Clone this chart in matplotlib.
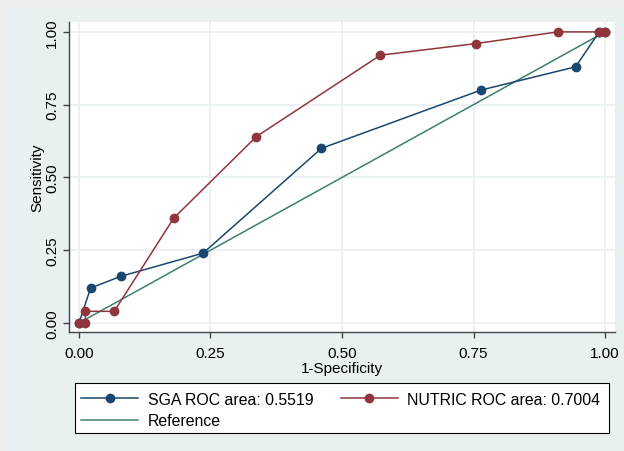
import numpy as np
import matplotlib.pyplot as plt
from matplotlib.patches import Rectangle

plt.rcParams['font.family'] = ['Liberation Sans', 'DejaVu Sans']

# ROC coordinates (1-specificity, sensitivity)
sga_fpr = [0.0, 0.022, 0.079, 0.236, 0.461, 0.764, 0.944, 0.989, 1.0]
sga_tpr = [0.0, 0.12, 0.16, 0.24, 0.60, 0.80, 0.88, 1.0, 1.0]
nutric_fpr = [0.0, 0.012, 0.012, 0.067, 0.18, 0.337, 0.573, 0.755, 0.910, 0.989, 1.0]
nutric_tpr = [0.0, 0.0, 0.04, 0.04, 0.36, 0.64, 0.92, 0.96, 1.0, 1.0, 1.0]
ref_line = [0.0, 1.0]

sga_label = "SGA ROC area: 0.5519"
nutric_label = "NUTRIC ROC area: 0.7004"
ticks = [0.0, 0.25, 0.5, 0.75, 1.0]
tick_labels = ["0.00", "0.25", "0.50", "0.75", "1.00"]

navy = "#1a476f"
maroon = "#90353b"
green = "#3d7f6e"
panel = "#e8f0f2"
gridc = "#eaf1f3"
fs = 11

W, H = 624, 452
fig = plt.figure(figsize=(W / 100, H / 100), dpi=100, facecolor="#eeeeee")
# graph region background
fig.add_artist(Rectangle((8 / W, 0), 1 - 8 / W, (H - 8) / H,
                         transform=fig.transFigure, facecolor=panel,
                         edgecolor="none", zorder=-1))
# legend box
fig.add_artist(Rectangle((75 / W, 1 - 434 / H), 534 / W, 50 / H,
                         transform=fig.transFigure, facecolor="white",
                         edgecolor="black", lw=0.8, zorder=1))

ax = fig.add_axes([69 / W, 1 - 333 / H, (615 - 69) / W, (333 - 23) / H])
ax.set_zorder(2)
ax.set_facecolor("white")

l1, = ax.plot(sga_fpr, sga_tpr, color=navy, lw=1.1, marker="o", ms=6,
              label=sga_label, zorder=3)
l3, = ax.plot(ref_line, ref_line, color=green, lw=1.1, label="Reference", zorder=2)
l2, = ax.plot(nutric_fpr, nutric_tpr, color=maroon, lw=1.1, marker="o", ms=6,
              label=nutric_label, zorder=4)

ax.set_xlim(-0.019, 1.019)
ax.set_ylim(-0.031, 1.034)
ax.set_xticks(ticks)
ax.set_xticklabels(tick_labels, fontsize=fs)
ax.set_yticks(ticks)
ax.set_yticklabels(tick_labels, fontsize=fs, rotation=90, va="center")
ax.grid(True, color=gridc, lw=1.3)
ax.set_axisbelow(True)

for s in ["top", "right"]:
    ax.spines[s].set_visible(False)
for s in ["left", "bottom"]:
    ax.spines[s].set_color("#444444")
    ax.spines[s].set_linewidth(1.0)
ax.tick_params(direction="out", length=4, width=1.0, color="#444444", pad=3)
ax.tick_params(axis="x", pad=6)

ax.set_xlabel("1-Specificity", fontsize=fs, labelpad=1)
ax.set_ylabel("Sensitivity", fontsize=fs, labelpad=1)

leg = fig.legend([l1, l3, l2], [sga_label, "Reference", nutric_label],
                 ncol=2, loc="upper left",
                 bbox_to_anchor=(81 / W, 1 - 393 / H, 519 / W, 0),
                 mode="expand", fontsize=11.4, handlelength=3.6,
                 handletextpad=0.6, frameon=False, borderaxespad=0,
                 labelspacing=0.4, borderpad=0)
leg.set_zorder(3)

fig.savefig("out.png", dpi=100, facecolor=fig.get_facecolor())
